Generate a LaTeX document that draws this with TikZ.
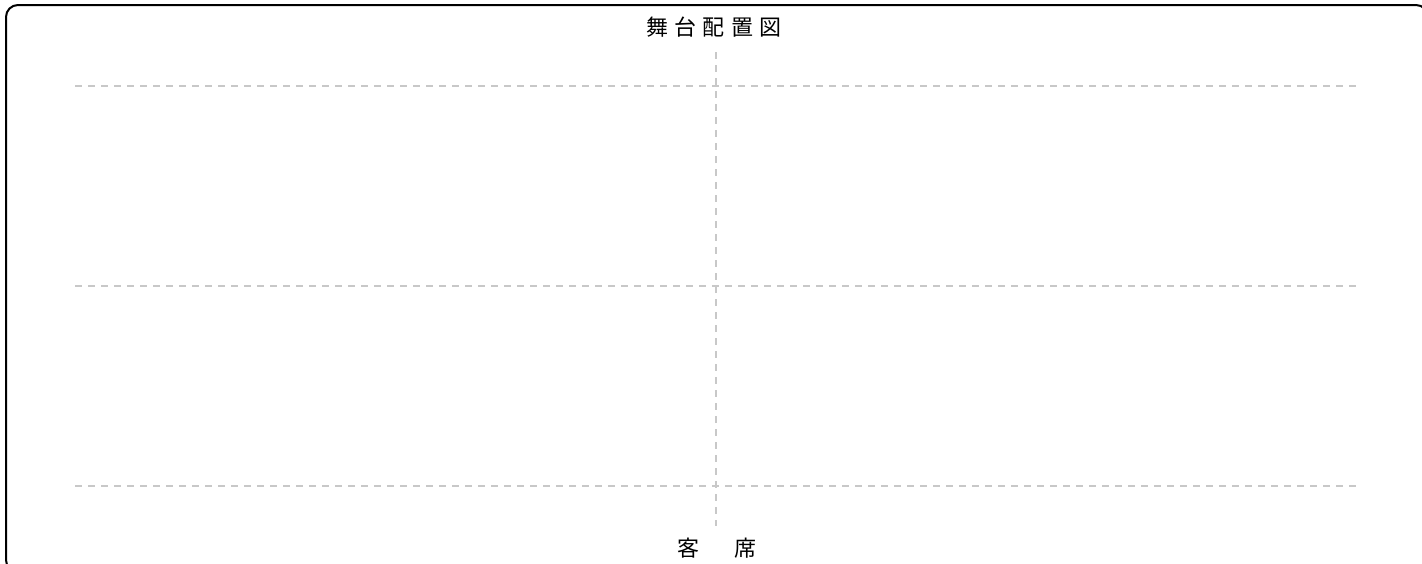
\documentclass[tikz,border=0pt]{standalone}
\usepackage{fontspec}
\newfontfamily\jpfont{Noto Sans CJK JP}
\tikzset{
	gridline/.style={draw={rgb,255:red,200;green,200;blue,200}, line width=1.2pt, dash pattern=on 7pt off 6pt},
	label/.style={font=\jpfont\fontsize{22pt}{22pt}\selectfont\addfontfeature{LetterSpace=29}, inner sep=0pt}
}

\begin{document}
\begin{tikzpicture}[x=1pt,y=-1pt]
	\useasboundingbox (0,0) rectangle (1422,563);
	
	\draw [line width=2pt, rounded corners=12pt] (6,5) rectangle (1428,572);
	
	\draw [gridline] (75,86) -- (1362,86);
	\draw [gridline] (75,286) -- (1362,286);
	\draw [gridline] (75,486) -- (1362,486);
	\draw [gridline] (716,52) -- (716,526);
	
	\node [label] (title) at (714,27) {舞台配置図};
	\node [label] (seats) at (717,548) {客　席};
\end{tikzpicture}
\end{document}
